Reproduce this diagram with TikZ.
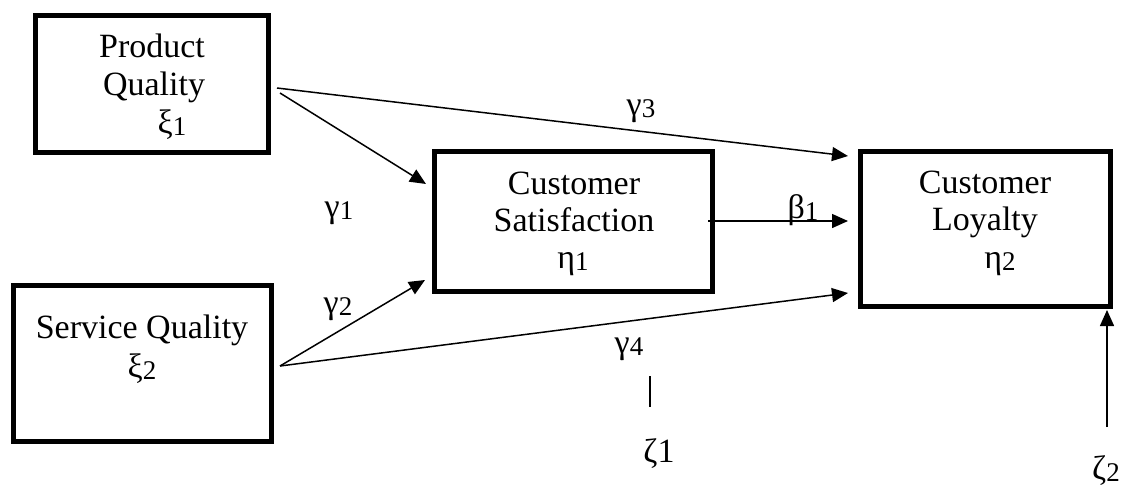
\documentclass[tikz,border=0pt]{standalone}
\usepackage{fontspec}
\setmainfont{Liberation Serif}
\usetikzlibrary{arrows.meta}
\newcommand{\dg}[1]{\raisebox{-2pt}{\fontsize{27}{27}\selectfont #1}}
\tikzset{
  box/.style={draw, line width=5pt, inner sep=0pt, outer sep=0pt, rectangle},
  lbl/.style={inner sep=0pt, anchor=base, font=\fontsize{34}{40}\selectfont},
  arr/.style={line width=1.5pt, -{Triangle[length=16pt,width=14pt]}},
  plain/.style={line width=1.5pt}
}
\begin{document}
\begin{tikzpicture}[x=1pt,y=-1pt]
\useasboundingbox (0,0) rectangle (1125,488);
% boxes
\node[box, minimum width=233.5pt, minimum height=137pt] (pq) at (151.75,84) {};
\node[box, minimum width=278pt, minimum height=140pt] (cs) at (573.5,221.5) {};
\node[box, minimum width=250pt, minimum height=155pt] (cl) at (985.5,229) {};
\node[box, minimum width=258.5pt, minimum height=156pt] (sq) at (142.25,363.5) {};
% box texts
\node[lbl] (pqt1) at (152,57) {Product};
\node[lbl] (pqt2) at (154,95) {Quality};
\node[lbl] (pqt3) at (172,133) {ξ\dg{1}};
\node[lbl] (cst1) at (574,194) {Customer};
\node[lbl] (cst2) at (574,231) {Satisfaction};
\node[lbl] (cst3) at (573,268) {η\dg{1}};
\node[lbl] (clt1) at (985,193) {Customer};
\node[lbl] (clt2) at (985,230) {Loyalty};
\node[lbl] (clt3) at (1000,268) {η\dg{2}};
\node[lbl] (sqt1) at (142,338) {Service Quality};
\node[lbl] (sqt2) at (142,377) {ξ\dg{2}};
% path labels
\node[lbl] (g1) at (339,217) {γ\dg{1}};
\node[lbl] (g2) at (338,313) {γ\dg{2}};
\node[lbl] (g3) at (641,115) {γ\dg{3}};
\node[lbl] (g4) at (629,353) {γ\dg{4}};
\node[lbl] (b1) at (803,218) {β\dg{1}};
\node[lbl] (z1) at (659,462) {ζ{\fontsize{34}{34}\selectfont 1}};
\node[lbl] (z2) at (1106,479) {ζ\dg{2}};
% free ends
\coordinate (z1top) at (650,376);
\coordinate (z1bot) at (650,407);
\coordinate (z2start) at (1107,427);
% connectors
\draw[arr] ([shift={(11.5,9)}]pq.east) -- ([shift={(-8.5,-37.5)}]cs.west);
\draw[arr] ([shift={(8.5,4)}]pq.east) -- ([shift={(-12.5,-73)}]cl.west);
\draw[arr] ([shift={(8.5,2.5)}]sq.east) -- ([shift={(-9.5,58.5)}]cs.west);
\draw[arr] ([shift={(8.5,2.5)}]sq.east) -- ([shift={(-12.5,64)}]cl.west);
\draw[arr] ([shift={(-4.5,-0.5)}]cs.east) -- ([shift={(-12.5,-8)}]cl.west);
\draw[arr] (z2start) -- ([shift={(-3.5,3.5)}]cl.south east);
\draw[plain] (z1top) -- (z1bot);
\end{tikzpicture}
\end{document}
